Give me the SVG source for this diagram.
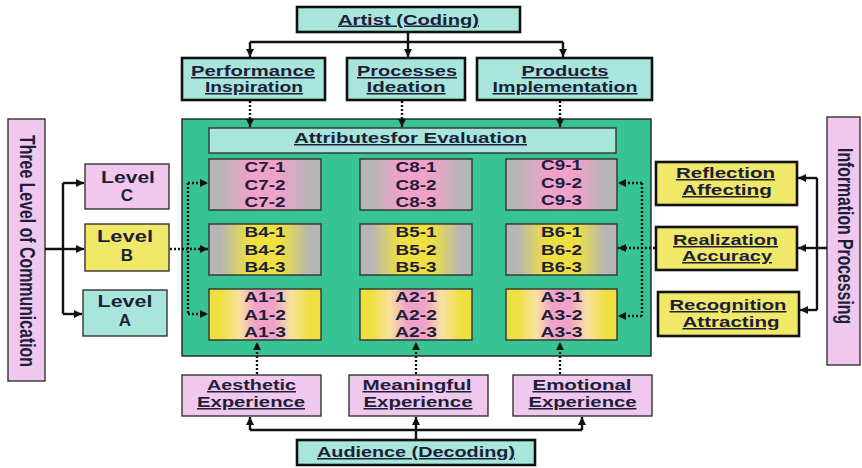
<svg xmlns="http://www.w3.org/2000/svg" width="862" height="468" viewBox="0 0 862 468">
<defs>
<style>
.t{font-family:"Liberation Sans",Arial,sans-serif;font-weight:bold;text-anchor:middle;fill:#1e1e3a;font-size:15px}
.u{text-decoration:underline}
.lv{font-size:17px}
.thick{stroke:#111;stroke-width:2.6}
.thin{stroke:#333;stroke-width:1.4}
.teal{fill:#a8e6dc}
.pink{fill:#f0c8ee}
.yel{fill:#f0e868}
.ln{fill:none;stroke:#111;stroke-width:2.4}
.dot{fill:none;stroke:#111;stroke-width:2.4;stroke-dasharray:2 2}
</style>
<marker id="ah" viewBox="0 0 8 8" markerWidth="8" markerHeight="8" refX="8" refY="4" orient="auto" markerUnits="userSpaceOnUse">
<path d="M0,0 L8,4 L0,8 z" fill="#111"/>
</marker>
<linearGradient id="gC" x1="0" y1="0" x2="1" y2="0">
<stop offset="0" stop-color="#b6b6b6"/><stop offset="0.1" stop-color="#b6b6b6"/><stop offset="0.36" stop-color="#f0a2c8"/><stop offset="0.64" stop-color="#f0a2c8"/><stop offset="0.9" stop-color="#b6b6b6"/><stop offset="1" stop-color="#b6b6b6"/>
</linearGradient>
<linearGradient id="gB" x1="0" y1="0" x2="1" y2="0">
<stop offset="0" stop-color="#b6b6b6"/><stop offset="0.1" stop-color="#b6b6b6"/><stop offset="0.36" stop-color="#eee040"/><stop offset="0.64" stop-color="#eee040"/><stop offset="0.9" stop-color="#b6b6b6"/><stop offset="1" stop-color="#b6b6b6"/>
</linearGradient>
<linearGradient id="gA" x1="0" y1="0" x2="1" y2="0">
<stop offset="0" stop-color="#eee040"/><stop offset="0.1" stop-color="#eee040"/><stop offset="0.27" stop-color="#f8e2a0"/><stop offset="0.42" stop-color="#f0a2c8"/><stop offset="0.58" stop-color="#f0a2c8"/><stop offset="0.73" stop-color="#f8e2a0"/><stop offset="0.9" stop-color="#eee040"/><stop offset="1" stop-color="#eee040"/>
</linearGradient>
</defs>

<g id="panel">
<rect x="182" y="119" width="469" height="237" fill="#38c394" stroke="#222" stroke-width="1.4"/>
</g>

<g id="artist">
<rect class="teal thick" x="297" y="7" width="223" height="25"/>
<text class="t u" x="408.5" y="24.5" textLength="141" lengthAdjust="spacingAndGlyphs">Artist (Coding)</text>
</g>
<g id="performance">
<rect class="teal thick" x="182" y="58" width="143" height="42"/>
<text class="t u" x="253" y="76" textLength="124" lengthAdjust="spacingAndGlyphs">Performance</text>
<text class="t u" x="254" y="92" textLength="98" lengthAdjust="spacingAndGlyphs">Inspiration</text>
</g>
<g id="processes">
<rect class="teal thick" x="347" y="58" width="118" height="42"/>
<text class="t u" x="407" y="76" textLength="100" lengthAdjust="spacingAndGlyphs">Processes</text>
<text class="t u" x="406" y="92" textLength="79" lengthAdjust="spacingAndGlyphs">Ideation</text>
</g>
<g id="products">
<rect class="teal thick" x="477" y="58" width="175" height="42"/>
<text class="t u" x="565" y="76" textLength="87" lengthAdjust="spacingAndGlyphs">Products</text>
<text class="t u" x="565" y="92" textLength="145" lengthAdjust="spacingAndGlyphs">Implementation</text>
</g>

<g id="attributes">
<rect class="teal thin" x="209" y="128" width="407" height="25"/>
<text class="t u" x="410.5" y="143" textLength="233" lengthAdjust="spacingAndGlyphs">Attributesfor Evaluation</text>
</g>

<g id="c7"><rect class="thin" fill="url(#gC)" x="209" y="159" width="112" height="51"/>
<text class="t" x="265" y="172" textLength="41" lengthAdjust="spacingAndGlyphs">C7-1</text><text class="t" x="265" y="189.5" textLength="41" lengthAdjust="spacingAndGlyphs">C7-2</text><text class="t" x="265" y="207" textLength="41" lengthAdjust="spacingAndGlyphs">C7-2</text></g>
<g id="c8"><rect class="thin" fill="url(#gC)" x="360" y="159" width="112" height="51"/>
<text class="t" x="416" y="172" textLength="41" lengthAdjust="spacingAndGlyphs">C8-1</text><text class="t" x="416" y="189.5" textLength="41" lengthAdjust="spacingAndGlyphs">C8-2</text><text class="t" x="416" y="207" textLength="41" lengthAdjust="spacingAndGlyphs">C8-3</text></g>
<g id="c9"><rect class="thin" fill="url(#gC)" x="506" y="159" width="111" height="51"/>
<text class="t" x="561.5" y="170" textLength="41" lengthAdjust="spacingAndGlyphs">C9-1</text><text class="t" x="561.5" y="188" textLength="41" lengthAdjust="spacingAndGlyphs">C9-2</text><text class="t" x="561.5" y="205" textLength="41" lengthAdjust="spacingAndGlyphs">C9-3</text></g>

<g id="b4"><rect class="thin" fill="url(#gB)" x="209" y="224" width="112" height="51"/>
<text class="t" x="265" y="237" textLength="41" lengthAdjust="spacingAndGlyphs">B4-1</text><text class="t" x="265" y="254.5" textLength="41" lengthAdjust="spacingAndGlyphs">B4-2</text><text class="t" x="265" y="272" textLength="41" lengthAdjust="spacingAndGlyphs">B4-3</text></g>
<g id="b5"><rect class="thin" fill="url(#gB)" x="360" y="224" width="112" height="51"/>
<text class="t" x="416" y="237" textLength="41" lengthAdjust="spacingAndGlyphs">B5-1</text><text class="t" x="416" y="254.5" textLength="41" lengthAdjust="spacingAndGlyphs">B5-2</text><text class="t" x="416" y="272" textLength="41" lengthAdjust="spacingAndGlyphs">B5-3</text></g>
<g id="b6"><rect class="thin" fill="url(#gB)" x="506" y="224" width="111" height="51"/>
<text class="t" x="561.5" y="237" textLength="41" lengthAdjust="spacingAndGlyphs">B6-1</text><text class="t" x="561.5" y="254.5" textLength="41" lengthAdjust="spacingAndGlyphs">B6-2</text><text class="t" x="561.5" y="272" textLength="41" lengthAdjust="spacingAndGlyphs">B6-3</text></g>

<g id="a1"><rect class="thin" fill="url(#gA)" x="209" y="289" width="112" height="51"/>
<text class="t" x="265" y="302" textLength="42" lengthAdjust="spacingAndGlyphs">A1-1</text><text class="t" x="265" y="319.5" textLength="42" lengthAdjust="spacingAndGlyphs">A1-2</text><text class="t" x="265" y="337" textLength="42" lengthAdjust="spacingAndGlyphs">A1-3</text></g>
<g id="a2"><rect class="thin" fill="url(#gA)" x="360" y="289" width="112" height="51"/>
<text class="t" x="416" y="302" textLength="42" lengthAdjust="spacingAndGlyphs">A2-1</text><text class="t" x="416" y="319.5" textLength="42" lengthAdjust="spacingAndGlyphs">A2-2</text><text class="t" x="416" y="337" textLength="42" lengthAdjust="spacingAndGlyphs">A2-3</text></g>
<g id="a3"><rect class="thin" fill="url(#gA)" x="506" y="289" width="111" height="51"/>
<text class="t" x="561.5" y="302" textLength="42" lengthAdjust="spacingAndGlyphs">A3-1</text><text class="t" x="561.5" y="319.5" textLength="42" lengthAdjust="spacingAndGlyphs">A3-2</text><text class="t" x="561.5" y="337" textLength="42" lengthAdjust="spacingAndGlyphs">A3-3</text></g>

<g id="three-level">
<rect class="pink thin" x="8" y="119" width="37" height="262"/>
<text class="t" style="font-size:17px" transform="translate(20,251) rotate(90) scale(1,1.3)" x="0" y="0" textLength="232" lengthAdjust="spacingAndGlyphs">Three Level of Communication</text>
</g>
<g id="level-c">
<rect class="pink thin" x="85" y="164" width="84" height="45"/>
<text class="t lv" x="128" y="183" textLength="54" lengthAdjust="spacingAndGlyphs">Level</text>
<text class="t lv" x="127" y="201">C</text>
</g>
<g id="level-b">
<rect class="yel thin" x="85" y="224" width="84" height="47"/>
<text class="t lv" x="125" y="242" textLength="56" lengthAdjust="spacingAndGlyphs">Level</text>
<text class="t lv" x="127" y="261">B</text>
</g>
<g id="level-a">
<rect class="teal thin" x="83" y="290" width="84" height="46"/>
<text class="t lv" x="125" y="307" textLength="55" lengthAdjust="spacingAndGlyphs">Level</text>
<text class="t lv" x="125" y="326">A</text>
</g>

<g id="info-processing">
<rect class="pink thin" x="827" y="117" width="33" height="248"/>
<text class="t" style="font-size:17px" transform="translate(838,236) rotate(90) scale(1,1.25)" x="0" y="0" textLength="176" lengthAdjust="spacingAndGlyphs">Information  Processing</text>
</g>
<g id="reflection">
<rect class="yel thick" x="656" y="162" width="141" height="43"/>
<text class="t u" x="725.5" y="178" textLength="99" lengthAdjust="spacingAndGlyphs">Reflection</text>
<text class="t u" x="727" y="195" textLength="90" lengthAdjust="spacingAndGlyphs">Affecting</text>
</g>
<g id="realization">
<rect class="yel thick" x="656" y="227" width="141" height="43"/>
<text class="t u" x="725.5" y="245" textLength="105" lengthAdjust="spacingAndGlyphs">Realization</text>
<text class="t u" x="727" y="261" textLength="90" lengthAdjust="spacingAndGlyphs">Accuracy</text>
</g>
<g id="recognition">
<rect class="yel thick" x="658" y="292" width="141" height="44"/>
<text class="t u" x="728" y="310" textLength="117" lengthAdjust="spacingAndGlyphs">Recognition</text>
<text class="t u" x="731" y="327" textLength="97" lengthAdjust="spacingAndGlyphs">Attracting</text>
</g>

<g id="aesthetic">
<rect class="pink thin" x="182" y="375" width="139" height="41"/>
<text class="t u" x="251.5" y="390" textLength="89" lengthAdjust="spacingAndGlyphs">Aesthetic</text>
<text class="t u" x="251" y="407" textLength="108" lengthAdjust="spacingAndGlyphs">Experience</text>
</g>
<g id="meaningful">
<rect class="pink thin" x="349" y="375" width="139" height="41"/>
<text class="t u" x="417" y="390" textLength="109" lengthAdjust="spacingAndGlyphs">Meaningful</text>
<text class="t u" x="418" y="407" textLength="109" lengthAdjust="spacingAndGlyphs">Experience</text>
</g>
<g id="emotional">
<rect class="pink thin" x="513" y="375" width="139" height="41"/>
<text class="t u" x="582" y="390" textLength="99" lengthAdjust="spacingAndGlyphs">Emotional</text>
<text class="t u" x="582.5" y="407" textLength="108" lengthAdjust="spacingAndGlyphs">Experience</text>
</g>
<g id="audience">
<rect class="teal thick" x="297" y="440" width="238" height="25"/>
<text class="t u" x="416" y="457" textLength="198" lengthAdjust="spacingAndGlyphs">Audience (Decoding)</text>
</g>

<g id="connectors">
<path class="ln" d="M408,32 V42 M250,42 H563"/>
<path class="ln" d="M250,42 V57" marker-end="url(#ah)"/>
<path class="ln" d="M408,42 V57" marker-end="url(#ah)"/>
<path class="ln" d="M563,42 V57" marker-end="url(#ah)"/>
<path class="dot" d="M250,101 V127" marker-end="url(#ah)"/>
<path class="dot" d="M402,101 V127" marker-end="url(#ah)"/>
<path class="dot" d="M560,101 V127" marker-end="url(#ah)"/>

<path class="ln" d="M45,249 H63 M63,183 V314"/>
<path class="ln" d="M63,183 H84" marker-end="url(#ah)"/>
<path class="ln" d="M63,249 H84" marker-end="url(#ah)"/>
<path class="ln" d="M63,314 H82" marker-end="url(#ah)"/>
<path class="dot" d="M170,249 H208" marker-end="url(#ah)"/>
<path class="dot" d="M188,183 V314"/>
<path class="dot" d="M188,183 H208" marker-end="url(#ah)"/>
<path class="dot" d="M188,314 H208" marker-end="url(#ah)"/>

<path class="ln" d="M827,248 H817 M817,178 V310"/>
<path class="ln" d="M817,178 H798" marker-end="url(#ah)"/>
<path class="ln" d="M817,248 H798" marker-end="url(#ah)"/>
<path class="ln" d="M817,310 H800" marker-end="url(#ah)"/>
<path class="dot" d="M655,248 H618" marker-end="url(#ah)"/>
<path class="dot" d="M642,183 V316"/>
<path class="dot" d="M642,183 H618" marker-end="url(#ah)"/>
<path class="dot" d="M642,316 H618" marker-end="url(#ah)"/>

<path class="ln" d="M416,440 V430 M250,430 H582"/>
<path class="ln" d="M250,430 V417" marker-end="url(#ah)"/>
<path class="ln" d="M416,430 V417" marker-end="url(#ah)"/>
<path class="ln" d="M582,430 V417" marker-end="url(#ah)"/>
<path class="dot" d="M257,374 V342" marker-end="url(#ah)"/>
<path class="dot" d="M416,374 V342" marker-end="url(#ah)"/>
<path class="dot" d="M560,374 V342" marker-end="url(#ah)"/>
</g>
</svg>
